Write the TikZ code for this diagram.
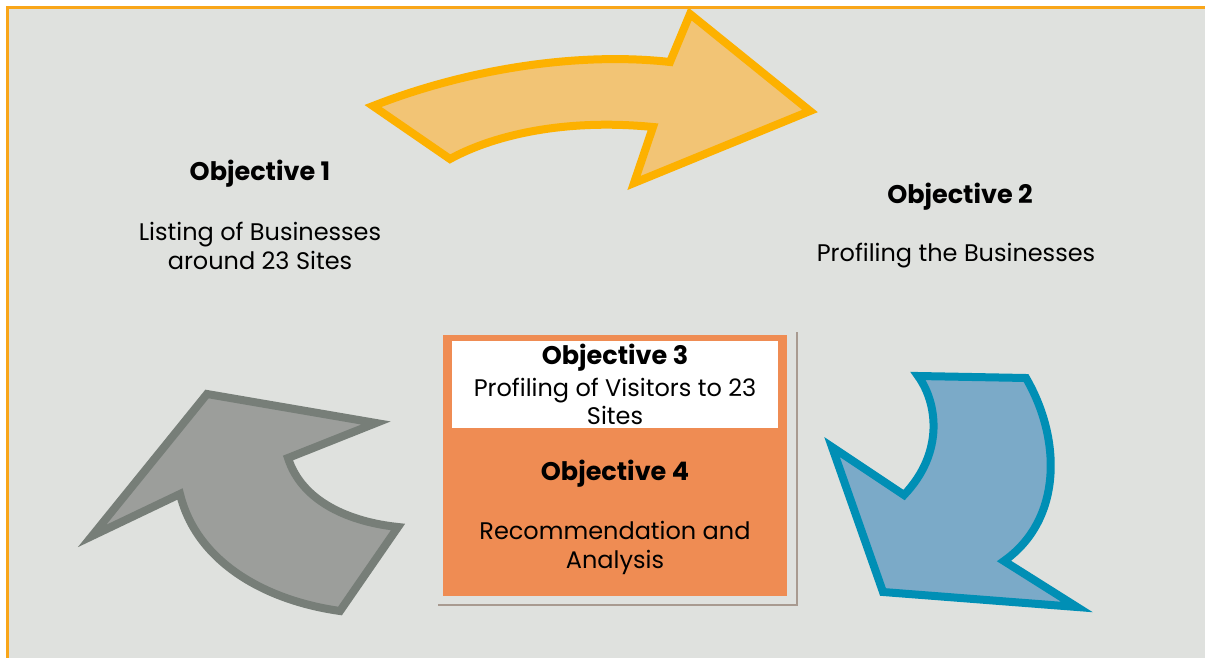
\documentclass[tikz,border=0pt]{standalone}
\usepackage{fontspec}
\setmainfont{Poppins}
\definecolor{bgpanel}{HTML}{DFE1DE}
\definecolor{frameor}{HTML}{F9A61A}
\definecolor{ylwfill}{HTML}{F2C475}
\definecolor{ylwline}{HTML}{FDB100}
\definecolor{bluefill}{HTML}{7BAAC8}
\definecolor{blueline}{HTML}{008FB5}
\definecolor{grayfill}{HTML}{9C9E9B}
\definecolor{grayline}{HTML}{777E78}
\definecolor{boxfill}{HTML}{EF8C53}
\definecolor{shadowc}{HTML}{A89A90}
\begin{document}
\begin{tikzpicture}[x=1pt,y=-1pt,
  bigarrow/.style={line width=8pt,line join=miter,miter limit=10},
  lbl/.style={font=\fontsize{24}{29.5}\selectfont,align=center,text=black,inner sep=0pt},
  ttl/.style={font=\fontsize{25.5}{29.5}\selectfont\bfseries,text=black,inner sep=0pt}]
\useasboundingbox (0,0) rectangle (1205,658);
% panel
\fill[white] (0,0) rectangle (1205,658);
\fill[bgpanel] (7,7) rectangle (1205,658);
\draw[frameor,line width=2.5pt] (7.5,658) -- (7.5,7.5) -- (1205,7.5);

% top arrow (objective 1 -> 2)
\draw[bigarrow,draw=ylwline,fill=ylwfill]
  (373,106) .. controls (470,68) and (580,52) .. (670,62)
  -- (690,14) -- (810,111) -- (634,183) -- (653,127)
  .. controls (560,118) and (490,137) .. (450,159) -- cycle;

% right arrow (objective 2 -> box)
\draw[bigarrow,draw=blueline,fill=bluefill]
  (918,376) -- (1026,378)
  .. controls (1062,440) and (1062,520) .. (1004,561)
  -- (1077,607) -- (883,592) -- (832,447) -- (904,495)
  .. controls (945,452) and (937,402) .. cycle;

% left arrow (box -> objective 1)
\draw[bigarrow,draw=grayline,fill=grayfill]
  (207,394) -- (376,423) -- (288,458)
  .. controls (302,502) and (350,522) .. (398,527)
  -- (340,611)
  .. controls (262,600) and (196,560) .. (180,494)
  -- (92,536) -- cycle;

% centre box with shadow
\draw[shadowc,line width=2.5pt] (438,605) -- (797,605) -- (797,332);
\fill[boxfill] (443,335) rectangle (787,596);
\fill[white] (452,341) rectangle (778,428);

% texts
\node[ttl] (o1) at (260,174) {Objective 1};
\node[lbl] (d1) at (260,246) {Listing of Businesses\\around 23 Sites};
\node[ttl] (o2) at (960,197) {Objective 2};
\node[lbl] (d2) at (956,256) {Profiling the Businesses};
\node[ttl] (o3) at (615,358) {Objective 3};
\node[lbl,font=\fontsize{24}{28}\selectfont] (d3) at (615,401) {Profiling of Visitors to 23\\Sites};
\node[ttl] (o4) at (615,474) {Objective 4};
\node[lbl] (d4) at (615,548) {Recommendation and\\Analysis};
\end{tikzpicture}
\end{document}
